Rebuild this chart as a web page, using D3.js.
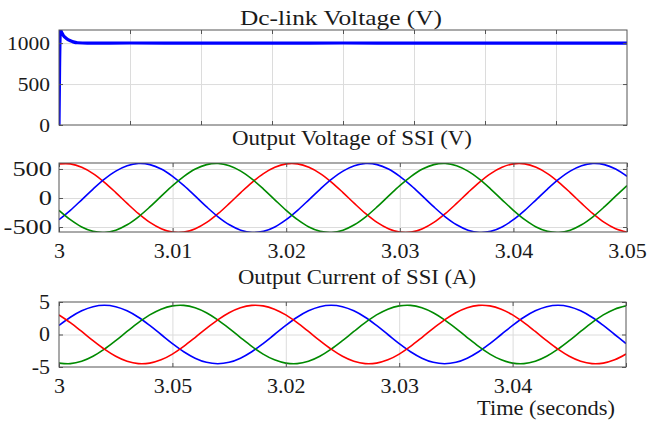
<!DOCTYPE html>
<html>
<head>
<meta charset="utf-8">
<script src="https://cdn.jsdelivr.net/npm/d3@7"></script>
<style>
  body { margin: 0; background: #fff; }
  svg text { font-family: "Liberation Serif", "Times New Roman", Times, serif !important; fill: #1a1a1a; }
</style>
</head>
<body>
<div id="myPlot"></div>
<script>
// Dc-link voltage (start-up transient, then flat)
const dcTime = [0, 0.004, 0.01, 0.02, 0.03, 0.05, 0.08, 0.1, 0.13, 0.2, 0.5, 1, 1.5, 2, 2.5, 3, 3.5, 4];
const dcVolt = [0, 700, 1160, 1125, 1095, 1060, 1028, 1015, 1004, 1000, 1001, 999, 1000, 1001, 1000, 999, 1000, 1000];

// sample times for the SSI waveforms (s)
const tSample = [3.000, 3.001, 3.002, 3.003, 3.004, 3.005, 3.006, 3.007, 3.008, 3.009,
                 3.010, 3.011, 3.012, 3.013, 3.014, 3.015, 3.016, 3.017, 3.018, 3.019,
                 3.020, 3.021, 3.022, 3.023, 3.024, 3.025, 3.026, 3.027, 3.028, 3.029,
                 3.030, 3.031, 3.032, 3.033, 3.034, 3.035, 3.036, 3.037, 3.038, 3.039,
                 3.040, 3.041, 3.042, 3.043, 3.044, 3.045, 3.046, 3.047, 3.048, 3.049, 3.050];

// Output voltage of SSI (V)
const vRed = [588, 588, 530, 421, 270, 93, -93, -270, -421, -530, -588, -588, -530, -421, -270, -93, 93, 270, 421, 530,
              588, 588, 530, 421, 270, 93, -93, -270, -421, -530, -588, -588, -530, -421, -270, -93, 93, 270, 421, 530,
              588, 588, 530, 421, 270, 93, -93, -270, -421, -530, -588];
const vBlue = [-374, -213, -31, 154, 324, 462, 555, 594, 575, 499, 374, 213, 31, -154, -324, -462, -555, -594, -575, -499,
               -374, -213, -31, 154, 324, 462, 555, 594, 575, 499, 374, 213, 31, -154, -324, -462, -555, -594, -575, -499,
               -374, -213, -31, 154, 324, 462, 555, 594, 575, 499, 374];
const vGreen = [-213, -374, -499, -575, -594, -555, -462, -324, -154, 31, 213, 374, 499, 575, 594, 555, 462, 324, 154, -31,
                -213, -374, -499, -575, -594, -555, -462, -324, -154, 31, 213, 374, 499, 575, 594, 555, 462, 324, 154, -31,
                -213, -374, -499, -575, -594, -555, -462, -324, -154, 31, 213];

// Output current of SSI (A)
const iBlue = [1.39, 2.65, 3.64, 4.28, 4.5, 4.28, 3.64, 2.65, 1.39, 0, -1.39, -2.65, -3.64, -4.28, -4.5, -4.28, -3.64, -2.65, -1.39, 0,
               1.39, 2.65, 3.64, 4.28, 4.5, 4.28, 3.64, 2.65, 1.39, 0, -1.39, -2.65, -3.64, -4.28, -4.5, -4.28, -3.64, -2.65, -1.39, 0,
               1.39, 2.65, 3.64, 4.28, 4.5, 4.28, 3.64, 2.65, 1.39, 0, -1.39];
const iRed = [3.01, 1.83, 0.47, -0.94, -2.25, -3.34, -4.11, -4.48, -4.40, -3.90, -3.01, -1.83, -0.47, 0.94, 2.25, 3.34, 4.11, 4.48, 4.40, 3.90,
              3.01, 1.83, 0.47, -0.94, -2.25, -3.34, -4.11, -4.48, -4.40, -3.90, -3.01, -1.83, -0.47, 0.94, 2.25, 3.34, 4.11, 4.48, 4.40, 3.90,
              3.01, 1.83, 0.47, -0.94, -2.25, -3.34, -4.11, -4.48, -4.40, -3.90, -3.01];
const iGreen = [-4.40, -4.48, -4.11, -3.34, -2.25, -0.94, 0.47, 1.83, 3.01, 3.90, 4.40, 4.48, 4.11, 3.34, 2.25, 0.94, -0.47, -1.83, -3.01, -3.90,
                -4.40, -4.48, -4.11, -3.34, -2.25, -0.94, 0.47, 1.83, 3.01, 3.90, 4.40, 4.48, 4.11, 3.34, 2.25, 0.94, -0.47, -1.83, -3.01, -3.90,
                -4.40, -4.48, -4.11, -3.34, -2.25, -0.94, 0.47, 1.83, 3.01, 3.90, 4.40];

// tick values and labels
const dcGridX = [0.5, 1, 1.5, 2, 2.5, 3, 3.5];
const dcTicksY = [0, 500, 1000];
const ssiTicksX = [3, 3.01, 3.02, 3.03, 3.04, 3.05];
const vTickLabelsX = ["3", "3.01", "3.02", "3.03", "3.04", "3.05"];
const iTickLabelsX = ["3", "3.05", "3.02", "3.03", "3.04", ""];
const vTicksY = [-500, 0, 500];
const iTicksY = [-5, 0, 5];

const titles = ["Dc-link Voltage (V)", "Output Voltage of SSI (V)", "Output Current of SSI (A)"];
const xAxisTitle = "Time (seconds)";

const W = 648, H = 423;
const serif = '"Liberation Serif", "Times New Roman", Times, serif';

const svg = d3.select("#myPlot")
  .append("svg")
  .attr("width", W)
  .attr("height", H)
  .style("display", "block");

// stretch text horizontally (the reference glyphs are wider than Times)
function stretch(sel, k) {
  sel.each(function() {
    const w = this.getComputedTextLength();
    d3.select(this).attr("textLength", w * k).attr("lengthAdjust", "spacingAndGlyphs");
  });
}

function panel(cfg) {
  const g = svg.append("g").attr("transform", `translate(${cfg.x0},${cfg.y0})`);
  const w = cfg.x1 - cfg.x0, h = cfg.y1 - cfg.y0;
  const x = d3.scaleLinear().domain(cfg.xDomain).range([0, w]);
  const y = d3.scaleLinear().domain(cfg.yDomain).range([h, 0]);

  // grid
  g.append("g")
    .attr("class", "grid")
    .call(d3.axisBottom(x).tickValues(cfg.gridX).tickSize(h).tickFormat(""))
    .call(a => a.select(".domain").remove())
    .call(a => a.selectAll("line").attr("stroke", "#dcdcdc").attr("stroke-width", 1));
  g.append("g")
    .attr("class", "grid")
    .call(d3.axisRight(y).tickValues(cfg.gridY).tickSize(w).tickFormat(""))
    .call(a => a.select(".domain").remove())
    .call(a => a.selectAll("line").attr("stroke", "#dcdcdc").attr("stroke-width", 1));

  // data
  const clipId = "clip" + cfg.id;
  g.append("clipPath").attr("id", clipId)
    .append("rect").attr("x", 0).attr("y", 0).attr("width", w).attr("height", h);
  const plot = g.append("g").attr("clip-path", `url(#${clipId})`);
  cfg.series.forEach(s => {
    const line = d3.line()
      .x((d, i) => x(cfg.xs[i]))
      .y(d => y(d))
      .curve(cfg.curve);
    plot.append("path")
      .datum(s.values)
      .attr("fill", "none")
      .attr("stroke", s.color)
      .attr("stroke-width", s.width)
      .attr("stroke-linejoin", "round")
      .attr("d", line);
  });

  // box + inward ticks
  const tick = 4;
  const left = g.append("g")
    .call(d3.axisLeft(y).tickValues(cfg.ticksY).tickSize(-tick).tickPadding(cfg.padY).tickFormat(d => String(d)));
  g.append("g").attr("transform", `translate(${w},0)`)
    .call(d3.axisRight(y).tickValues(cfg.ticksY).tickSize(-tick).tickFormat(""));
  const bottom = g.append("g").attr("transform", `translate(0,${h})`)
    .call(d3.axisBottom(x).tickValues(cfg.ticksX).tickSize(-tick)
      .tickFormat((d, i) => cfg.labelsX ? cfg.labelsX[i] : ""));
  g.append("g")
    .call(d3.axisTop(x).tickValues(cfg.ticksX).tickSize(-tick).tickFormat(""));
  g.selectAll(".domain").attr("stroke", "none");
  g.selectAll("g").attr("font-family", serif);
  g.selectAll(".tick line").filter(function() { return !this.closest(".grid"); })
    .attr("stroke", "#555");
  g.append("rect")
    .attr("width", w).attr("height", h)
    .attr("fill", "none").attr("stroke", "#555").attr("stroke-width", 1);

  left.selectAll("text")
    .attr("font-family", serif)
    .attr("font-size", cfg.fontY)
    .attr("fill", "#1a1a1a")
    .call(stretch, cfg.stretchY);
  bottom.selectAll("text")
    .attr("font-family", serif)
    .attr("font-size", 22)
    .attr("fill", "#1a1a1a")
    .attr("y", 26).attr("dy", 0);
}

// top: dc-link
panel({
  id: 1, x0: 59, x1: 627, y0: 30, y1: 125,
  xDomain: [0, 4], yDomain: [0, 1160],
  gridX: dcGridX, gridY: [500, 1000],
  ticksX: dcGridX, ticksY: dcTicksY, labelsX: null,
  padY: 9, fontY: 19, stretchY: 1.13,
  xs: dcTime, curve: d3.curveMonotoneX,
  series: [{ values: dcVolt, color: "#0000ff", width: 3.2 }]
});

// middle: output voltage
panel({
  id: 2, x0: 59, x1: 627, y0: 163, y1: 232,
  xDomain: [3, 3.05], yDomain: [-586, 603],
  gridX: ssiTicksX.slice(1, 5), gridY: vTicksY,
  ticksX: ssiTicksX, ticksY: vTicksY, labelsX: vTickLabelsX,
  padY: 7, fontY: 20, stretchY: 1.32,
  xs: tSample, curve: d3.curveCatmullRom,
  series: [
    { values: vRed, color: "#ff0000", width: 1.6 },
    { values: vBlue, color: "#0000ff", width: 1.6 },
    { values: vGreen, color: "#008a00", width: 1.6 }
  ]
});

// bottom: output current
panel({
  id: 3, x0: 59, x1: 626, y0: 302, y1: 367,
  xDomain: [3, 3.05], yDomain: [-5, 5],
  gridX: ssiTicksX.slice(1, 5), gridY: [0],
  ticksX: ssiTicksX, ticksY: iTicksY, labelsX: iTickLabelsX,
  padY: 9, fontY: 20, stretchY: 1.1,
  xs: tSample, curve: d3.curveCatmullRom,
  series: [
    { values: iBlue, color: "#0000ff", width: 1.6 },
    { values: iGreen, color: "#008a00", width: 1.6 },
    { values: iRed, color: "#ff0000", width: 1.6 }
  ]
});

// titles
const titlePos = [
  { x: 341, y: 25, size: 22, len: 202 },
  { x: 352, y: 145, size: 20, len: 240 },
  { x: 357, y: 284, size: 20, len: 238 }
];
titles.forEach((t, i) => {
  svg.append("text")
    .attr("x", titlePos[i].x)
    .attr("y", titlePos[i].y)
    .attr("text-anchor", "middle")
    .attr("textLength", titlePos[i].len)
    .attr("lengthAdjust", "spacingAndGlyphs")
    .attr("font-family", serif)
    .style("font-size", titlePos[i].size + "px")
    .text(t);
});

svg.append("text")
  .attr("x", 546)
  .attr("y", 415)
  .attr("text-anchor", "middle")
  .attr("textLength", 138)
  .attr("lengthAdjust", "spacingAndGlyphs")
  .attr("font-family", serif)
  .style("font-size", "21px")
  .text(xAxisTitle);
</script>
</body>
</html>
